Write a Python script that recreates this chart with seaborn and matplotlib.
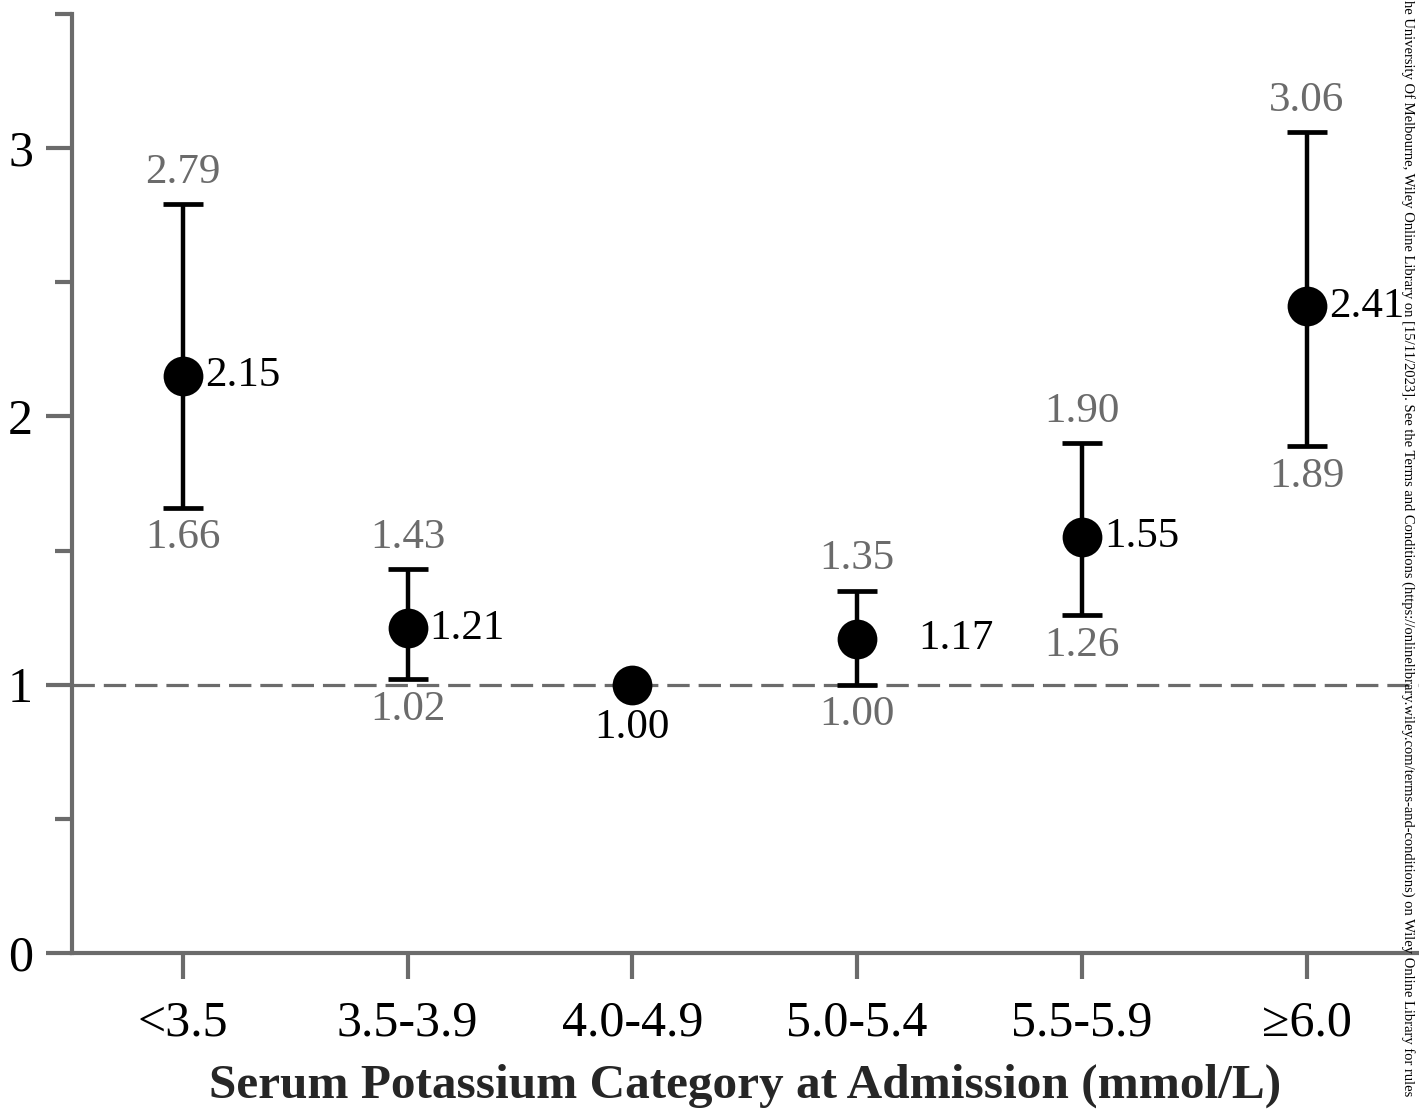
import matplotlib
matplotlib.use("Agg")
import numpy as np
import pandas as pd
import matplotlib.pyplot as plt
import seaborn as sns

# Data
categories = ["<3.5", "3.5-3.9", "4.0-4.9", "5.0-5.4", "5.5-5.9", "\u22656.0"]
odds_ratio = [2.15, 1.21, 1.00, 1.17, 1.55, 2.41]
ci_lower = [1.66, 1.02, np.nan, 1.00, 1.26, 1.89]
ci_upper = [2.79, 1.43, np.nan, 1.35, 1.90, 3.06]

df = pd.DataFrame({"cat": categories, "or": odds_ratio,
                   "lo": ci_lower, "hi": ci_upper})
df["x"] = np.arange(len(df))

sns.set_style("ticks")
plt.rcParams["font.family"] = ["Liberation Serif", "DejaVu Serif"]

grey = "#6b6b6b"
fig = plt.figure(figsize=(14.19, 11.16), dpi=100)
ax = fig.add_axes([0.0507, 0.146, 0.9493, 0.8415])

# reference line at OR = 1
ax.axhline(1, color=grey, lw=2.3, ls=(0, (7, 2.8)), zorder=1)

# confidence intervals
has_ci = df.dropna()
ax.errorbar(has_ci["x"], has_ci["or"],
            yerr=[has_ci["or"] - has_ci["lo"], has_ci["hi"] - has_ci["or"]],
            fmt="none", ecolor="black", elinewidth=3.2, capsize=14.5,
            capthick=3.4, zorder=2)

# point estimates
sns.scatterplot(data=df, x="x", y="or", s=820, color="black",
                edgecolor="black", linewidth=0, ax=ax, zorder=3, legend=False)

# labels
for _, r in df.iterrows():
    if np.isnan(r["lo"]):
        ax.annotate(f"{r['or']:.2f}", (r["x"], r["or"]), xytext=(0, -17),
                    textcoords="offset points", ha="center", va="top",
                    fontsize=31, color="black")
        continue
    ax.annotate(f"{r['hi']:.2f}", (r["x"], r["hi"]), xytext=(0, 9),
                textcoords="offset points", ha="center", va="bottom",
                fontsize=31, color=grey)
    ax.annotate(f"{r['lo']:.2f}", (r["x"], r["lo"]), xytext=(0, -8),
                textcoords="offset points", ha="center", va="top",
                fontsize=31, color=grey)
    dx = 44 if r["cat"] == "5.0-5.4" else 16
    ax.annotate(f"{r['or']:.2f}", (r["x"], r["or"]), xytext=(dx, 0),
                textcoords="offset points", ha="left", va="center",
                fontsize=31, color="black")

ax.set_xlim(-0.493, 5.5)
ax.set_ylim(0, 3.5)
ax.set_xticks(df["x"])
ax.set_xticklabels(categories)
ax.set_yticks([0, 1, 2, 3])
ax.set_yticks([0.5, 1.5, 2.5, 3.5], minor=True)
ax.tick_params(axis="both", which="major", length=19, width=3, color=grey,
               labelsize=36, labelcolor="black")
ax.tick_params(axis="y", which="major", pad=9)
ax.tick_params(axis="x", which="major", pad=15)
ax.tick_params(axis="y", which="minor", length=12, width=3, color=grey)

sns.despine(ax=ax)
for s in ["left", "bottom"]:
    ax.spines[s].set_color(grey)
    ax.spines[s].set_linewidth(3)

ax.set_xlabel("Serum Potassium Category at Admission (mmol/L)",
              fontsize=35.5, fontweight="bold", labelpad=12)
ax.set_ylabel("")

# watermark text at the right edge
fig.text(0.9925, 1.0, "he University Of Melbourne, Wiley Online Library on "
         "[15/11/2023]. See the Terms and Conditions "
         "(https://onlinelibrary.wiley.com/terms-and-conditions) on Wiley "
         "Online Library for rules",
         rotation=270, ha="center", va="top", fontsize=10.5, color="black")

fig.savefig("out.png", dpi=100)
